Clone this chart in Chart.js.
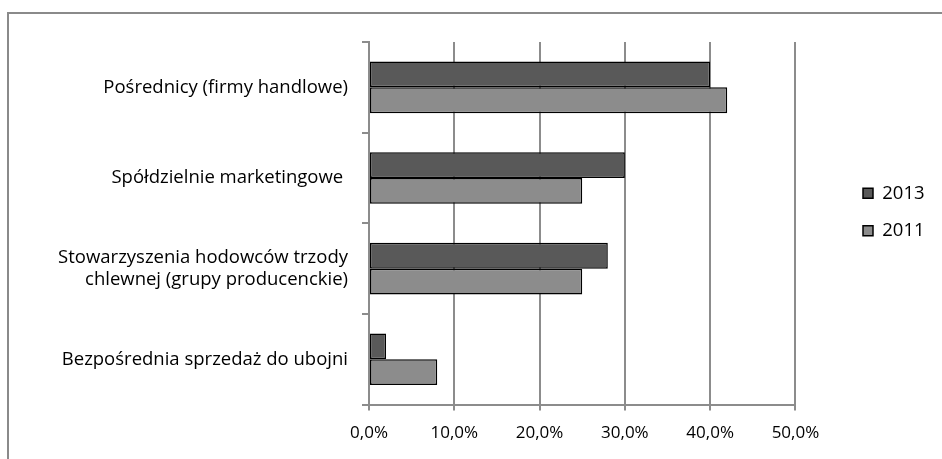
<!DOCTYPE html>
<html>
<head>
<meta charset="utf-8">
<script src="https://cdn.jsdelivr.net/npm/chart.js@4/dist/chart.umd.min.js"></script>
<style>
  html, body { margin: 0; padding: 0; background: #fff; }
  #wrap { position: relative; width: 942px; height: 459px; }
  #frame { position: absolute; left: 7px; top: 12px; right: 0; bottom: 0;
           border-left: 2px solid #8a8a8a; border-top: 2px solid #8a8a8a; }
  canvas { position: absolute; left: 0; top: 0; }
</style>
</head>
<body>
<div id="wrap">
  <div id="frame"></div>
  <canvas id="chart" width="942" height="459"></canvas>
</div>
<script>
const categories = [
    'Pośrednicy (firmy handlowe)',
    'Spółdzielnie marketingowe ',
    ['Stowarzyszenia hodowców trzody', 'chlewnej (grupy producenckie)'],
    'Bezpośrednia sprzedaż do ubojni'
];
const values2013 = [40, 30, 28, 2];
const values2011 = [42, 25, 25, 8];
const xTicks = [0, 10, 20, 30, 40, 50];

const fmtPct = v => v.toFixed(1).replace('.', ',') + '%';
const labelFont = { family: 'Open Sans', size: 18.5 };
const tickFont = { family: 'Open Sans', size: 17 };

// move the legend to where the reference has it
const legendPlace = {
    id: 'legendPlace',
    beforeDraw(chart) {
        const lg = chart.legend;
        const w = lg.right - lg.left;
        lg.left = 844;
        lg.right = lg.left + w;
        lg.top = 165;
    }
};

const chart = new Chart(document.getElementById('chart'), {
    type: 'bar',
    data: {
        labels: categories,
        datasets: [
            {
                label: '2013',
                data: values2013,
                backgroundColor: '#595959',
                borderColor: '#000000',
                borderWidth: 1.5,
                borderSkipped: false,
                categoryPercentage: 0.57,
                barPercentage: 1
            },
            {
                label: '2011',
                data: values2011,
                backgroundColor: '#8c8c8c',
                borderColor: '#000000',
                borderWidth: 1.5,
                borderSkipped: false,
                categoryPercentage: 0.57,
                barPercentage: 1
            }
        ]
    },
    options: {
        indexAxis: 'y',
        responsive: false,
        animation: false,
        layout: {
            padding: { top: 42, right: 56, bottom: 4, left: 0 }
        },
        scales: {
            x: {
                min: 0,
                max: 50,
                afterBuildTicks: axis => { axis.ticks = xTicks.map(v => ({ value: v })); },
                ticks: {
                    color: '#000',
                    font: tickFont,
                    padding: 12,
                    callback: v => fmtPct(v),
                    maxRotation: 0
                },
                grid: {
                    color: '#8c8c8c',
                    lineWidth: 2,
                    tickLength: 6
                },
                border: { color: '#8c8c8c', width: 2 }
            },
            y: {
                afterFit: axis => { axis.width = 369; },
                ticks: {
                    color: '#000',
                    font: labelFont,
                    padding: 14
                },
                grid: {
                    offset: true,
                    drawOnChartArea: false,
                    color: '#8c8c8c',
                    lineWidth: 2,
                    tickLength: 7
                },
                border: { color: '#8c8c8c', width: 2 }
            }
        },
        plugins: {
            legend: {
                position: 'right',
                align: 'start',
                labels: {
                    color: '#000',
                    font: labelFont,
                    boxWidth: 10,
                    boxHeight: 10,
                    padding: 19
                }
            },
            tooltip: { enabled: false }
        }
    },
    plugins: [legendPlace]
});
</script>
</body>
</html>
